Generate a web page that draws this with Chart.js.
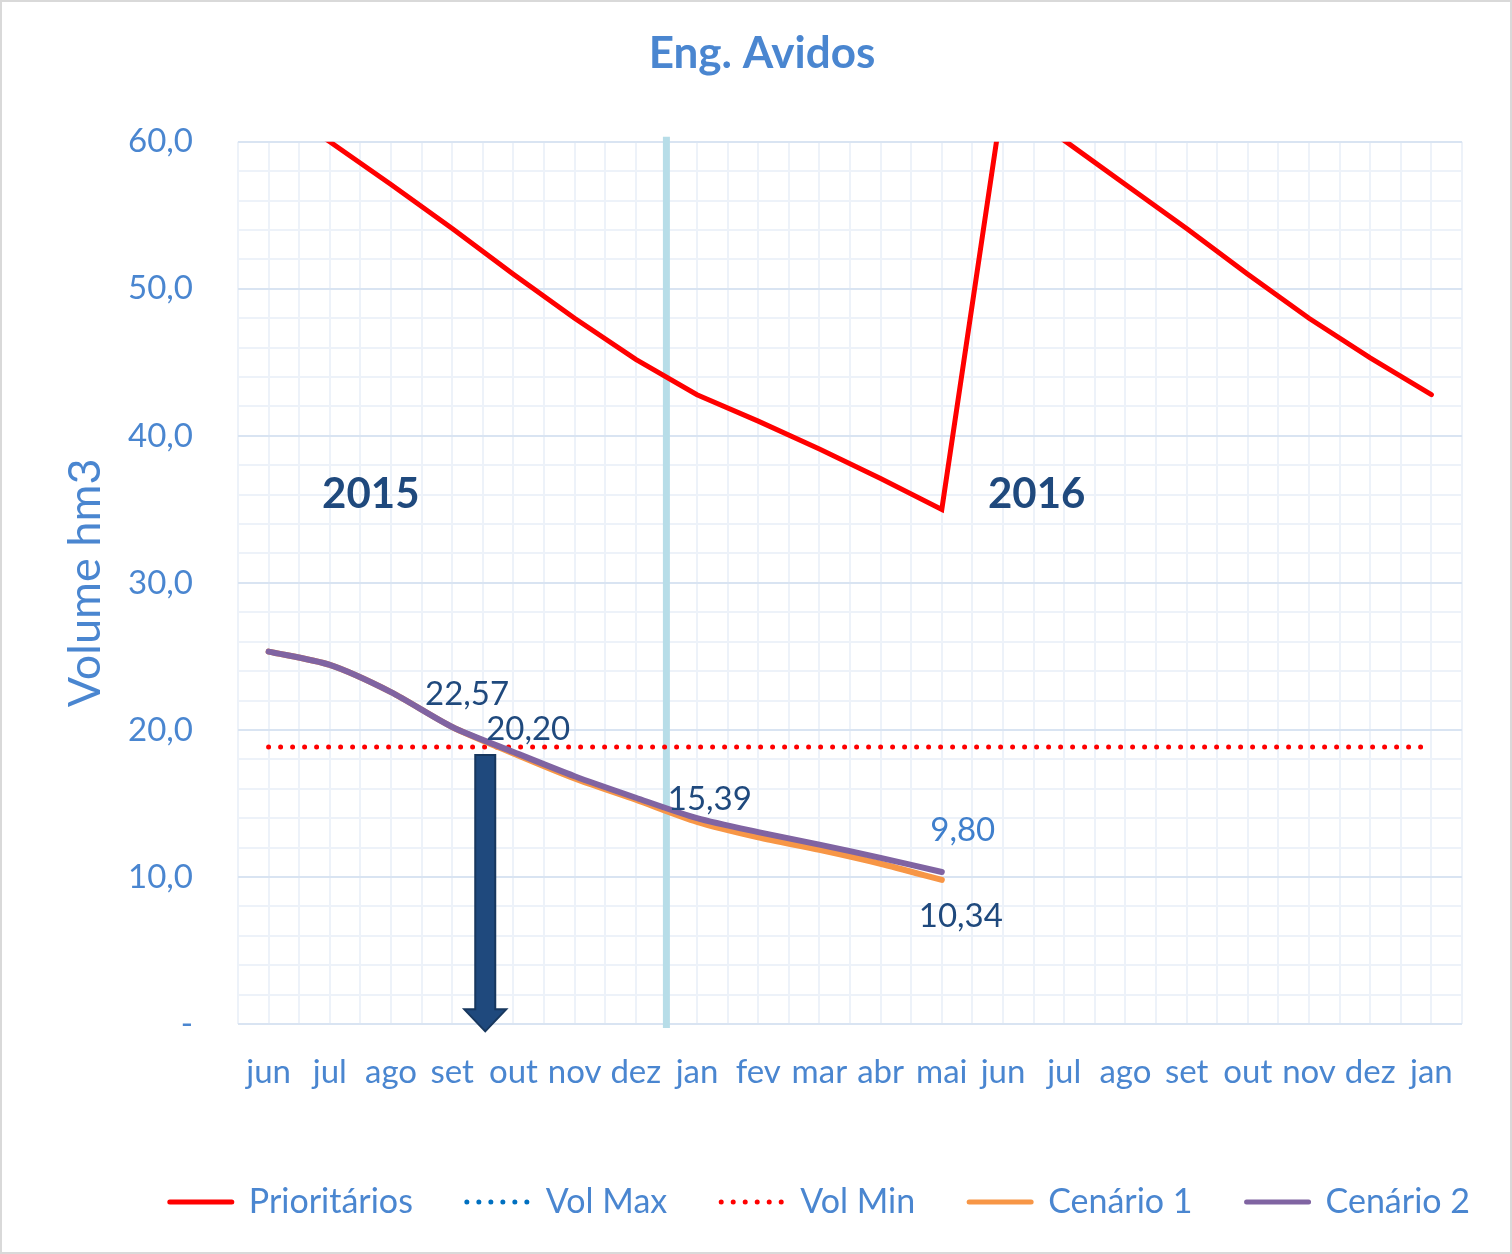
<!DOCTYPE html>
<html>
<head>
<meta charset="utf-8">
<script src="https://cdn.jsdelivr.net/npm/chart.js@4/dist/chart.umd.min.js"></script>
<style>
  body { margin: 0; background: #fff; }
</style>
</head>
<body>
<canvas id="chart" width="1512" height="1254"></canvas>
<script>
'use strict';

let months = ['jun', 'jul', 'ago', 'set', 'out', 'nov', 'dez', 'jan', 'fev', 'mar', 'abr', 'mai', 'jun', 'jul', 'ago', 'set', 'out', 'nov', 'dez', 'jan'];
let prioritarios = [62.9, 60.0, 57.1, 54.1, 51.0, 48.0, 45.2, 42.8, 41.0, 39.1, 37.1, 35.0, 63.0, 60.1, 57.1, 54.1, 51.0, 48.0, 45.3, 42.8];
let volMax = [80.0, 80.0, 80.0, 80.0, 80.0, 80.0, 80.0, 80.0, 80.0, 80.0, 80.0, 80.0, 80.0, 80.0, 80.0, 80.0, 80.0, 80.0, 80.0, 80.0];
let volMin = [18.84, 18.84, 18.84, 18.84, 18.84, 18.84, 18.84, 18.84, 18.84, 18.84, 18.84, 18.84, 18.84, 18.84, 18.84, 18.84, 18.84, 18.84, 18.84, 18.84];
let cenario1 = [25.33, 24.42, 22.57, 20.20, 18.40, 16.70, 15.25, 13.75, 12.70, 11.85, 10.90, 9.80, null, null, null, null, null, null, null, null];
let cenario2 = [25.33, 24.42, 22.57, 20.20, 18.50, 16.85, 15.39, 14.00, 13.05, 12.20, 11.30, 10.34, null, null, null, null, null, null, null, null];
let yTicks = [0, 10, 20, 30, 40, 50, 60];

// which points get a value label: [dataset, index, dx, dy, align, color]
let pointLabels = [
    [4, 2, 34, 2, 'left', '#1f497d'],
    [4, 3, 34, 2, 'left', '#1f497d'],
    [4, 6, 32, 2, 'left', '#1f497d'],
    [4, 11, 19, 44, 'center', '#1f497d'],
    [3, 11, 21, -50, 'center', '#3f7fcc']
];

let blue = '#4a86d0';
let navy = '#1f497d';
let fontName = 'Lato, "Open Sans", sans-serif';

function fmt(v) {
    return v.toFixed(2).replace('.', ',');
}

let extras = {
    id: 'extras',
    beforeDatasetsDraw(chart) {
        let ctx = chart.ctx;
        let xs = chart.scales.x2;
        let a = chart.chartArea;
        // divider between the years
        let xDiv = xs.getPixelForValue(6.5);
        ctx.save();
        ctx.strokeStyle = '#b7dde8';
        ctx.lineWidth = 7;
        ctx.beginPath();
        ctx.moveTo(xDiv, a.top - 5);
        ctx.lineTo(xDiv, a.bottom + 4);
        ctx.stroke();
        ctx.restore();
    },
    afterDatasetsDraw(chart) {
        let ctx = chart.ctx;
        let xs = chart.scales.x2;
        let ys = chart.scales.y;

        // arrow
        let ax = xs.getPixelForValue(3.54);
        let top = ys.getPixelForValue(18.3);
        let tip = ys.getPixelForValue(-0.5);
        let headTop = tip - 22;
        ctx.save();
        ctx.fillStyle = '#1f497d';
        ctx.strokeStyle = '#17375e';
        ctx.lineWidth = 2;
        ctx.beginPath();
        ctx.moveTo(ax - 10, top);
        ctx.lineTo(ax + 10, top);
        ctx.lineTo(ax + 10, headTop);
        ctx.lineTo(ax + 21, headTop);
        ctx.lineTo(ax, tip);
        ctx.lineTo(ax - 21, headTop);
        ctx.lineTo(ax - 10, headTop);
        ctx.closePath();
        ctx.fill();
        ctx.stroke();
        ctx.restore();

        // year text
        ctx.save();
        ctx.font = 'bold 42px ' + fontName;
        ctx.fillStyle = navy;
        ctx.textAlign = 'center';
        ctx.textBaseline = 'middle';
        ctx.fillText('2015', xs.getPixelForValue(1.67), ys.getPixelForValue(36));
        ctx.fillText('2016', xs.getPixelForValue(12.55), ys.getPixelForValue(36));

        // value labels
        ctx.font = '33px ' + fontName;
        pointLabels.forEach(function (p) {
            let pt = chart.getDatasetMeta(p[0]).data[p[1]];
            let v = chart.data.datasets[p[0]].data[p[1]];
            ctx.fillStyle = p[5];
            ctx.textAlign = p[4];
            ctx.fillText(fmt(v), pt.x + p[2], pt.y + p[3]);
        });
        ctx.restore();
    },
    afterDraw(chart) {
        let ctx = chart.ctx;
        ctx.save();
        ctx.strokeStyle = '#d9d9d9';
        ctx.lineWidth = 2;
        ctx.strokeRect(1, 1, chart.width - 2, chart.height - 2);
        ctx.restore();
    }
};

let ctx = document.getElementById('chart').getContext('2d');
let myChart = new Chart(ctx, {
    type: 'line',
    data: {
        labels: months,
        datasets: [{
            label: 'Prioritários',
            data: prioritarios,
            borderColor: '#ff0000',
            backgroundColor: '#ff0000',
            borderWidth: 5,
            borderCapStyle: 'round',
            pointRadius: 0,
            tension: 0,
            clip: 0,
            order: 5
        }, {
            label: 'Vol Max',
            data: volMax,
            borderColor: '#0070c0',
            backgroundColor: '#0070c0',
            borderWidth: 5,
            borderDash: [0, 12],
            borderCapStyle: 'round',
            pointRadius: 0,
            clip: 0,
            order: 4
        }, {
            label: 'Vol Min',
            data: volMin,
            borderColor: '#ff0000',
            backgroundColor: '#ff0000',
            borderWidth: 5,
            borderDash: [0, 12],
            borderCapStyle: 'round',
            pointRadius: 0,
            order: 3
        }, {
            label: 'Cenário 1',
            data: cenario1,
            borderColor: '#f79646',
            backgroundColor: '#f79646',
            borderWidth: 6,
            borderCapStyle: 'round',
            pointRadius: 0,
            tension: 0.25,
            order: 2
        }, {
            label: 'Cenário 2',
            data: cenario2,
            borderColor: '#8064a2',
            backgroundColor: '#8064a2',
            borderWidth: 6,
            borderCapStyle: 'round',
            pointRadius: 0,
            tension: 0.25,
            order: 1
        }]
    },
    options: {
        responsive: false,
        animation: false,
        devicePixelRatio: 1,
        layout: {
            padding: { left: 0, right: -12, top: 0, bottom: 25 }
        },
        plugins: {
            title: {
                display: true,
                text: 'Eng. Avidos',
                color: blue,
                font: { family: fontName, size: 44, weight: 'bold' },
                padding: { top: 27, bottom: 62 }
            },
            legend: {
                position: 'bottom',
                align: 'end',
                labels: {
                    usePointStyle: true,
                    pointStyle: 'line',
                    pointStyleWidth: 62,
                    color: blue,
                    font: { family: fontName, size: 34 },
                    padding: 54,
                    sort: function (a, b) { return a.datasetIndex - b.datasetIndex; },
                    generateLabels: function (chart) {
                        let items = Chart.defaults.plugins.legend.labels.generateLabels(chart);
                        items.forEach(function (it) {
                            let ds = chart.data.datasets[it.datasetIndex];
                            it.lineDash = ds.borderDash || [];
                            it.lineCap = 'round';
                            it.lineWidth = 5;
                            it.strokeStyle = ds.borderColor;
                        });
                        return items;
                    }
                }
            },
            tooltip: { enabled: false }
        },
        scales: {
            x: {
                type: 'category',
                offset: true,
                grid: { display: false },
                border: { display: false },
                ticks: {
                    color: blue,
                    font: { family: fontName, size: 33 },
                    padding: 21,
                    maxRotation: 0,
                    autoSkip: false
                },
                afterFit: function (s) { s.height = 107; }
            },
            x2: {
                type: 'linear',
                position: 'bottom',
                min: -0.5,
                max: 19.5,
                grid: { color: '#edf2f9', lineWidth: 2, drawTicks: false },
                border: { display: false },
                ticks: { display: false, stepSize: 0.5 },
                afterFit: function (s) { s.height = 0; }
            },
            y: {
                min: 0,
                max: 60,
                grid: {
                    drawTicks: false,
                    lineWidth: 2,
                    color: function (c) {
                        return c.tick && c.tick.value % 10 === 0 ? '#d9e4f2' : '#edf2f9';
                    }
                },
                border: { display: false },
                ticks: {
                    stepSize: 2,
                    autoSkip: false,
                    color: blue,
                    padding: 45,
                    font: { family: fontName, size: 33 },
                    callback: function (v) {
                        if (!yTicks.includes(v)) return '';
                        return v === 0 ? '-' : v.toFixed(1).replace('.', ',');
                    }
                },
                title: {
                    display: true,
                    text: 'Volume hm3',
                    color: blue,
                    font: { family: fontName, size: 45 },
                    padding: { top: 58, bottom: 0 }
                },
                afterFit: function (s) { s.width = 238; }
            },
            y2: {
                position: 'right',
                display: true,
                grid: { display: false },
                border: { display: false },
                ticks: { display: false },
                afterFit: function (s) { s.width = 62; }
            }
        }
    },
    plugins: [extras]
});
</script>
</body>
</html>
